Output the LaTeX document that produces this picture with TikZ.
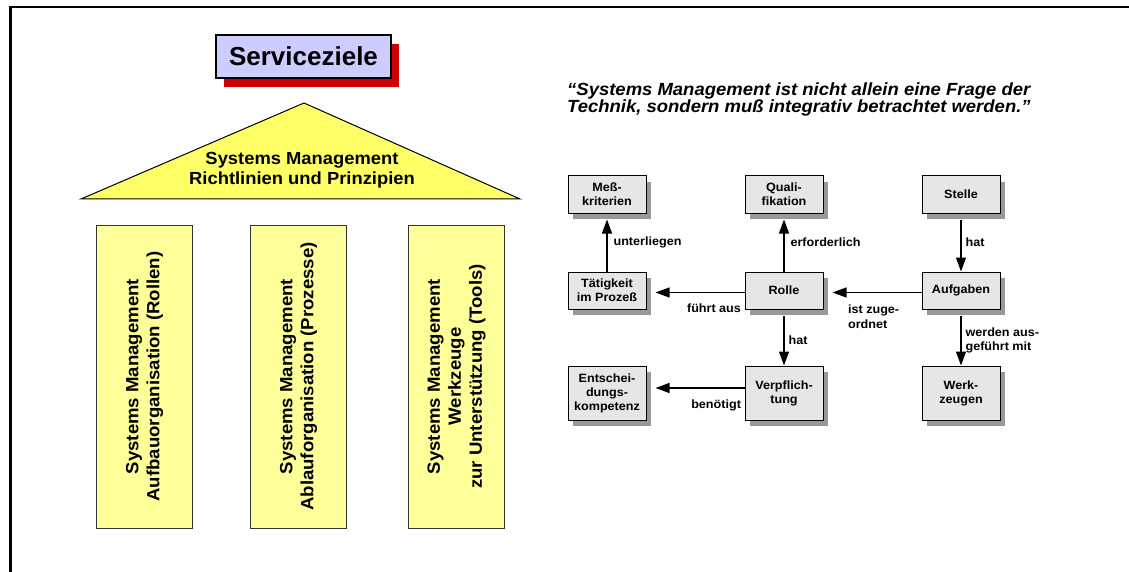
\documentclass[tikz,border=0pt]{standalone}
\usepackage{fontspec}
\setmainfont{Liberation Sans}
\newfontfamily\widesans[FakeStretch=1.05]{Liberation Sans}
\usetikzlibrary{shadows,arrows.meta,calc}

\definecolor{svcfill}{HTML}{CCCCFF}
\definecolor{svcshadow}{HTML}{CC0000}
\definecolor{roofyellow}{HTML}{FFFF66}
\definecolor{pillaryellow}{HTML}{FFFF99}
\definecolor{boxgray}{HTML}{E6E6E6}
\definecolor{shadowgray}{HTML}{999999}
\definecolor{pillarline}{HTML}{333333}

\begin{document}
\begin{tikzpicture}[x=1pt,y=-1pt,
  svcbox/.style={draw=black, line width=1.6pt, fill=svcfill,
    minimum width=175pt, minimum height=43pt, inner sep=0pt,
    font=\fontsize{26}{30}\selectfont\bfseries,
    drop shadow={shadow xshift=8pt, shadow yshift=-9pt, opacity=1, fill=svcshadow}},
  pillar/.style={draw=pillarline, line width=0.8pt, fill=pillaryellow, rotate=90,
    minimum width=303pt, minimum height=96pt, inner sep=0pt, align=center,
    font=\widesans\fontsize{17.7}{21}\selectfont\bfseries},
  rbox/.style={draw=black, line width=1pt, fill=boxgray,
    minimum width=78pt, minimum height=37pt, inner sep=0pt, align=center,
    font=\widesans\fontsize{12}{14}\selectfont\bfseries,
    drop shadow={shadow xshift=5pt, shadow yshift=-6pt, opacity=1, fill=shadowgray}},
  tallbox/.style={rbox, minimum height=54pt},
  lbl/.style={inner sep=0pt, align=left,
    font=\widesans\fontsize{12}{14.5}\selectfont\bfseries},
  flow/.style={line width=1.1pt, -{Triangle[length=14pt,width=10pt]}}
]
\useasboundingbox (0,0) rectangle (1129,572);

% page frame (top and left edge)
\draw[line width=2.2pt] (10.5,572) -- (10.5,6.7) -- (1129,6.7);

% ---------- left: service goals, roof and pillars ----------
\node[svcbox] (svc) at (303.5,56.5) {Serviceziele};

\coordinate (apex) at (304,103);
\coordinate (baseL) at (81,199);
\coordinate (baseR) at (520,199);
\filldraw[fill=roofyellow, draw=black, line width=1pt, line join=miter]
  (baseL) -- (apex) -- (baseR) -- cycle;
\node[inner sep=0pt, align=center, font=\widesans\fontsize{17.5}{20}\selectfont\bfseries]
  (roof) at (302,170.5) {Systems Management\\Richtlinien und Prinzipien};

\node[pillar] (p1) at (144.5,376.5) {Systems Management\\Aufbauorganisation (Rollen)};
\node[pillar] (p2) at (298.5,376.5) {Systems Management\\Ablauforganisation (Prozesse)};
\node[pillar] (p3) at (456.5,376.5) {Systems Management\\Werkzeuge\\zur Unterstützung (Tools)};

% ---------- right: quotation ----------
\node[anchor=north west, inner sep=0pt, align=left,
  font=\widesans\fontsize{17.6}{16.5}\selectfont\bfseries\itshape]
  (quote) at (567,83)
  {“Systems Management ist nicht allein eine Frage der\\Technik, sondern muß integrativ betrachtet werden.”};

% ---------- right: role model ----------
\node[rbox] (mess)  at (607,194.5) {Meß-\\kriterien};
\node[rbox] (quali) at (784,194.5) {Quali-\\fikation};
\node[rbox] (stelle) at (961,194.5) {Stelle};

\node[rbox] (taet)  at (607,290.5) {Tätigkeit\\im Prozeß};
\node[rbox] (rolle) at (784,290.5) {Rolle};
\node[rbox] (aufg)  at (961,290.5) {Aufgaben};

\node[tallbox] (ents)  at (607,393) {Entschei-\\dungs-\\kompetenz};
\node[tallbox] (verpf) at (784,393) {Verpflich-\\tung};
\node[tallbox] (werk)  at (961,393) {Werk-\\zeugen};

% vertical relations
\draw[flow, shorten >=6pt] (taet.north) -- node[lbl, anchor=west, xshift=6pt] {unterliegen} (mess.south);
\draw[flow, shorten >=6pt] (rolle.north) -- node[lbl, anchor=west, xshift=6pt] {erforderlich} (quali.south);
\draw[flow, shorten <=6pt] (stelle.south) -- node[lbl, anchor=west, xshift=4pt] {hat} (aufg.north);
\draw[flow, shorten <=6pt] (rolle.south) -- node[lbl, anchor=west, xshift=4pt, pos=0.55] {hat} (verpf.north);
\draw[flow, shorten <=6pt] (aufg.south) -- node[lbl, anchor=west, xshift=4pt, pos=0.55] {werden aus-\\geführt mit} (werk.north);

% horizontal relations
\draw[flow, shorten >=9pt] ([yshift=-2pt]rolle.west) --
  node[lbl, pos=0, anchor=north east, xshift=-3pt, yshift=-11pt] {führt aus}
  ([yshift=-2pt]taet.east);
\draw[flow, shorten >=9pt] ([yshift=-2pt]aufg.west) --
  node[lbl, pos=1, anchor=north west, xshift=24pt, yshift=-12pt] {ist zuge-\\ordnet}
  ([yshift=-2pt]rolle.east);
\draw[flow, shorten >=9pt] ([yshift=5pt]verpf.west) --
  node[lbl, pos=0, anchor=north east, xshift=-3pt, yshift=-11pt] {benötigt}
  ([yshift=5pt]ents.east);
\end{tikzpicture}
\end{document}
